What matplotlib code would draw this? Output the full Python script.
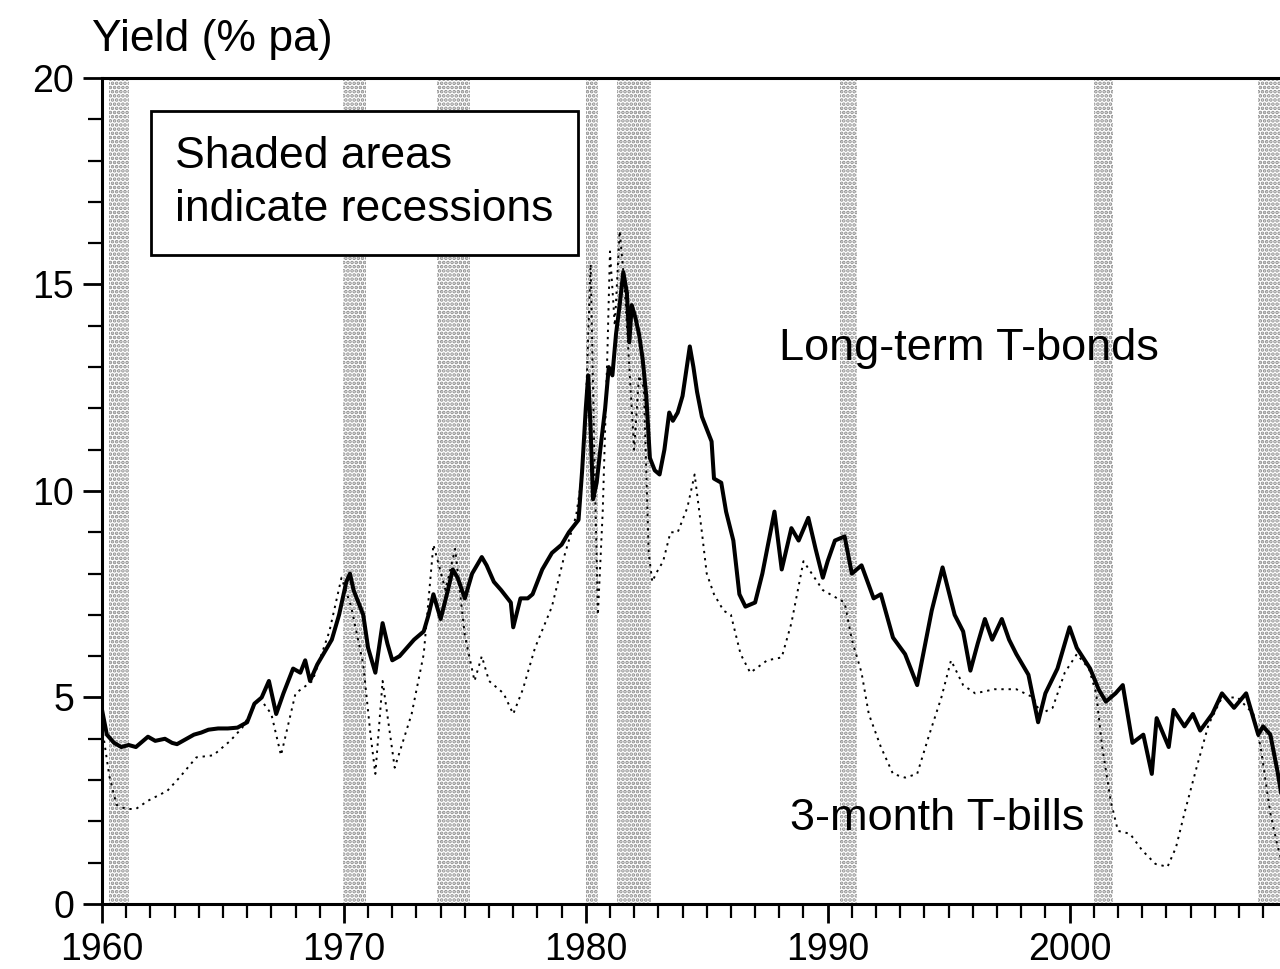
#librerias
import matplotlib
matplotlib.use("Agg")
import matplotlib.pyplot as plt
from matplotlib.ticker import MultipleLocator

plt.rcParams['font.family'] = ['Liberation Sans', 'DejaVu Sans']
plt.rcParams['hatch.linewidth'] = 1.8

#Datos (año decimal, % pa)
bond_t = [1960.0, 1960.2, 1960.5, 1960.8, 1961.1, 1961.4, 1961.7, 1961.9, 1962.2, 1962.6,
          1962.9, 1963.1, 1963.5, 1963.8, 1964.1, 1964.4, 1964.8, 1965.2, 1965.6, 1966.0,
          1966.3, 1966.6, 1966.9, 1967.2, 1967.5, 1967.9, 1968.2, 1968.4, 1968.6, 1968.9,
          1969.2, 1969.5, 1969.8, 1970.1, 1970.25, 1970.4, 1970.6, 1970.8, 1971.0, 1971.3,
          1971.6, 1971.8, 1972.0, 1972.3, 1972.6, 1972.9, 1973.3, 1973.5, 1973.7, 1974.0,
          1974.3, 1974.5, 1974.7, 1975.0, 1975.3, 1975.7, 1975.9, 1976.2, 1976.5, 1976.9,
          1977.0, 1977.3, 1977.6, 1977.8, 1978.2, 1978.6, 1979.0, 1979.3, 1979.7, 1979.85,
          1980.0, 1980.1, 1980.2, 1980.3, 1980.45, 1980.6, 1980.8, 1980.95, 1981.1, 1981.25,
          1981.4, 1981.55, 1981.7, 1981.8, 1981.9, 1982.05, 1982.2, 1982.35, 1982.5, 1982.65,
          1982.85, 1983.05, 1983.25, 1983.45, 1983.6, 1983.8, 1984.0, 1984.3, 1984.45, 1984.6,
          1984.8, 1985.0, 1985.2, 1985.3, 1985.6, 1985.8, 1986.1, 1986.35, 1986.6, 1987.0,
          1987.3, 1987.5, 1987.8, 1988.1, 1988.5, 1988.8, 1989.2, 1989.5, 1989.8, 1990.0,
          1990.3, 1990.7, 1991.0, 1991.4, 1991.9, 1992.2, 1992.7, 1993.2, 1993.7, 1994.0,
          1994.3, 1994.75, 1995.25, 1995.6, 1995.9, 1996.2, 1996.5, 1996.8, 1997.2, 1997.5,
          1997.8, 1998.3, 1998.7, 1999.0, 1999.5, 2000.0, 2000.3, 2000.85, 2001.2, 2001.5,
          2001.9, 2002.2, 2002.6, 2003.05, 2003.4, 2003.6, 2004.1, 2004.3, 2004.75, 2005.1,
          2005.4, 2005.9, 2006.3, 2006.8, 2007.3, 2007.8, 2008.0, 2008.3, 2008.6, 2008.8]
bond_y = [4.7, 4.1, 3.9, 3.8, 3.85, 3.8, 3.95, 4.05, 3.95, 4.0,
          3.9, 3.87, 4.0, 4.1, 4.15, 4.22, 4.25, 4.25, 4.27, 4.4,
          4.85, 5.0, 5.4, 4.6, 5.1, 5.7, 5.6, 5.9, 5.4, 5.8,
          6.1, 6.4, 7.0, 7.8, 8.0, 7.6, 7.3, 7.0, 6.2, 5.6,
          6.8, 6.3, 5.9, 6.0, 6.2, 6.4, 6.6, 7.0, 7.5, 6.9,
          7.6, 8.1, 7.9, 7.4, 8.0, 8.4, 8.2, 7.8, 7.6, 7.3,
          6.7, 7.4, 7.4, 7.5, 8.1, 8.5, 8.7, 9.0, 9.3, 10.5,
          12.0, 12.8, 11.5, 9.8, 10.2, 11.0, 12.0, 13.0, 12.8, 13.8,
          14.5, 15.3, 14.8, 13.6, 14.5, 14.2, 13.8, 13.2, 12.3, 10.8,
          10.5, 10.4, 11.0, 11.9, 11.7, 11.9, 12.3, 13.5, 13.0, 12.4,
          11.8, 11.5, 11.2, 10.3, 10.2, 9.5, 8.8, 7.5, 7.2, 7.3,
          8.0, 8.6, 9.5, 8.1, 9.1, 8.8, 9.35, 8.6, 7.9, 8.3,
          8.8, 8.9, 8.0, 8.2, 7.4, 7.5, 6.45, 6.05, 5.3, 6.2,
          7.1, 8.15, 7.0, 6.6, 5.65, 6.3, 6.9, 6.4, 6.9, 6.4,
          6.05, 5.55, 4.4, 5.1, 5.7, 6.7, 6.2, 5.7, 5.2, 4.9,
          5.1, 5.3, 3.9, 4.1, 3.15, 4.5, 3.8, 4.7, 4.3, 4.6,
          4.2, 4.6, 5.1, 4.75, 5.1, 4.1, 4.3, 4.1, 3.2, 2.5]

bill_t = [1960.0, 1960.3, 1960.6, 1961.0, 1961.4, 1961.9, 1962.7, 1963.2, 1963.9, 1964.6,
          1965.3, 1965.8, 1966.5, 1967.0, 1967.4, 1968.0, 1968.7, 1969.4, 1969.9, 1970.3,
          1970.8, 1971.1, 1971.3, 1971.6, 1972.1, 1972.8, 1973.3, 1973.7, 1974.2, 1974.6,
          1975.0, 1975.4, 1975.7, 1976.0, 1976.6, 1977.0, 1977.4, 1977.9, 1978.6, 1979.1,
          1979.6, 1979.8, 1980.0, 1980.2, 1980.35, 1980.5, 1980.7, 1980.9, 1981.0, 1981.2,
          1981.4, 1981.6, 1981.8, 1982.0, 1982.2, 1982.4, 1982.6, 1982.75, 1982.9, 1983.2,
          1983.5, 1983.8, 1984.2, 1984.5, 1984.8, 1985.0, 1985.3, 1985.7, 1986.0, 1986.4,
          1986.8, 1987.5, 1988.1, 1988.5, 1989.0, 1989.8, 1990.7, 1991.0, 1991.4, 1991.7,
          1992.2, 1992.7, 1993.2, 1993.7, 1994.2, 1994.7, 1995.1, 1995.6, 1996.1, 1996.9,
          1997.8, 1998.5, 1998.8, 1999.3, 1999.8, 2000.3, 2000.8, 2001.1, 2001.35, 2001.7,
          2002.0, 2002.5, 2003.0, 2003.55, 2004.05, 2004.4, 2004.75, 2005.25, 2005.75, 2006.3,
          2006.95, 2007.6, 2007.9, 2008.3, 2008.6, 2008.8]
bill_y = [4.3, 3.1, 2.4, 2.3, 2.3, 2.5, 2.74, 3.06, 3.55, 3.6,
          3.95, 4.27, 5.0, 4.6, 3.6, 5.1, 5.4, 6.6, 7.9, 7.2,
          5.8, 4.1, 3.15, 5.4, 3.3, 4.6, 6.05, 8.7, 7.6, 8.6,
          6.5, 5.4, 6.0, 5.4, 5.1, 4.6, 5.2, 6.2, 7.2, 8.4,
          9.4, 10.2, 12.0, 15.5, 11.0, 7.0, 9.5, 13.5, 15.8, 14.0,
          16.3, 15.0, 13.0, 11.0, 12.8, 12.5, 8.5, 7.8, 8.0, 8.3,
          9.0, 9.0, 9.6, 10.4, 9.0, 8.0, 7.5, 7.1, 7.0, 6.05,
          5.6, 5.9, 5.97, 6.8, 8.3, 7.6, 7.3, 6.4, 5.6, 4.6,
          3.8, 3.15, 3.06, 3.15, 4.1, 5.0, 5.9, 5.3, 5.1, 5.2,
          5.2, 5.0, 4.6, 4.75, 5.6, 6.05, 5.7, 5.1, 3.8, 2.5,
          1.77, 1.7, 1.3, 0.97, 0.9, 1.37, 2.2, 3.3, 4.35, 5.0,
          5.0, 4.6, 3.8, 2.2, 1.4, 0.97]

rec_start = [1960.3, 1969.95, 1973.85, 1980.0, 1981.3, 1990.5, 2001.0, 2007.8]
rec_end = [1961.1, 1970.9, 1975.2, 1980.5, 1982.7, 1991.2, 2001.8, 2010.0]

fig = plt.figure(figsize=(12.8, 9.69), dpi=100)
ax = fig.add_axes([0.0797, 0.0671, 0.9203, 0.8524])

#Recesiones
for a, b in zip(rec_start, rec_end):
    ax.axvspan(a, b, facecolor='white', edgecolor='#8c8c8c', hatch='....', linewidth=0, zorder=1)

ax.plot(bill_t, bill_y, color='black', lw=1.4, linestyle=(0, (1.2, 2.5)), zorder=3)
ax.plot(bond_t, bond_y, color='black', lw=2.9, zorder=4)

ax.set_xlim(1960, 2008.7)
ax.set_ylim(0, 20)
ax.xaxis.set_major_locator(MultipleLocator(10))
ax.xaxis.set_minor_locator(MultipleLocator(1))
ax.yaxis.set_major_locator(MultipleLocator(5))
ax.yaxis.set_minor_locator(MultipleLocator(1))
ax.tick_params(axis='both', which='major', labelsize=27, width=2, length=14, direction='out')
ax.tick_params(axis='both', which='minor', width=1.6, length=10, direction='out')
ax.tick_params(axis='y', pad=6)
ax.tick_params(axis='x', pad=6)

for s in ['left', 'top', 'bottom']:
    ax.spines[s].set_linewidth(2.2)
ax.spines['right'].set_visible(False)

fig.text(0.072, 0.959, 'Yield (% pa)', fontsize=32, ha='left', va='center')

ax.text(0.062, 0.873, 'Shaded areas\nindicate recessions', transform=ax.transAxes,
        fontsize=32, ha='left', va='center', linespacing=1.4, zorder=6,
        bbox=dict(boxstyle='square,pad=0.55', fc='white', ec='black', lw=2))

ax.text(1988.0, 13.46, 'Long-term T-bonds', fontsize=32.5, ha='left', va='center', zorder=6)
ax.text(1988.43, 2.08, '3-month T-bills', fontsize=32.5, ha='left', va='center', zorder=6)

fig.savefig('out.png', dpi=100)
